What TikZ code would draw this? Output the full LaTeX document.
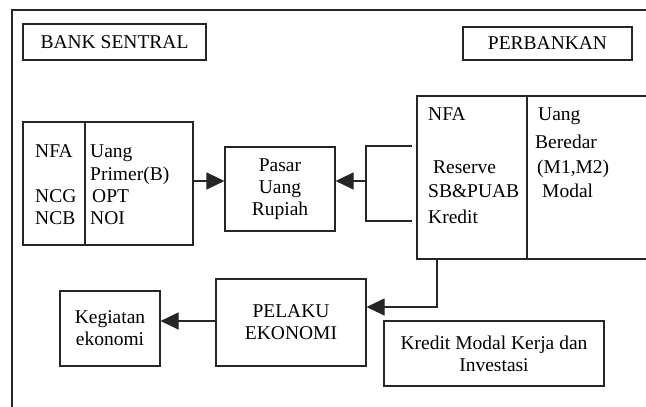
\documentclass[tikz,border=0pt]{standalone}
\usepackage{fontspec}
\setmainfont{Liberation Serif}
\usetikzlibrary{arrows.meta}
\begin{document}
\begin{tikzpicture}[x=1pt,y=-1pt,
  line/.style={draw=black!85, line width=1.1pt},
  box/.style={line, inner sep=0pt, align=center, font=\fontsize{19.5}{22}\selectfont},
  txt/.style={inner sep=0pt, anchor=base west, font=\fontsize{19.5}{22}\selectfont},
  arr/.style={line, -{Triangle[length=18pt,width=17pt]}}]
\clip (0,0) rectangle (646,407);
\fill[white] (0,0) rectangle (646,407);
% outer frame (cut by page edges)
\draw[line] (12,420) -- (12,10) -- (660,10);

% titles
\node[box, minimum width=183pt, minimum height=36pt] (bank) at (114.5,42) {BANK SENTRAL};
\node[box, minimum width=169pt, minimum height=33pt] (perb) at (547.5,43.5) {PERBANKAN};

% bank sentral balance sheet
\node[box, minimum width=170pt, minimum height=123pt] (bs) at (108,183.5) {};
\draw[line] (85,122) -- (85,245);
\node[txt] (bs1) at (35,157) {NFA};
\node[txt] (bs2) at (35,202) {NCG};
\node[txt] (bs3) at (35,224) {NCB};
\node[txt] (bs4) at (90,157) {Uang};
\node[txt] (bs5) at (90,180) {Primer(B)};
\node[txt] (bs6) at (92,202) {OPT};
\node[txt] (bs7) at (90,224) {NOI};

% pasar uang
\node[box, minimum width=110pt, minimum height=84pt] (pasar) at (280,189) {Pasar\\Uang\\Rupiah};

% perbankan balance sheet
\node[box, minimum width=243pt, minimum height=163pt] (rb) at (538.5,177.5) {};
\draw[line] (527,96) -- (527,259);
\node[txt] (rb1) at (428,120) {NFA};
\node[txt] (rb2) at (433,173) {Reserve};
\node[txt] (rb3) at (428,197) {SB\&PUAB};
\node[txt] (rb4) at (428,223) {Kredit};
\node[txt] (rb5) at (538,120) {Uang};
\node[txt] (rb6) at (535,148) {Beredar};
\node[txt] (rb7) at (537,173) {(M1,M2)};
\node[txt] (rb8) at (542,197) {Modal};

% lower row
\node[box, minimum width=150pt, minimum height=87pt] (pel) at (291,322.5) {PELAKU\\EKONOMI};
\node[box, minimum width=100pt, minimum height=75pt] (keg) at (110,328.5) {Kegiatan\\ekonomi};
\node[box, minimum width=220pt, minimum height=65pt] (kred) at (494,353.5) {Kredit Modal Kerja dan\\Investasi};

% helper coordinates
\coordinate (ya) at (0,181);
\coordinate (bt) at (412,146);
\coordinate (bb) at (412,221);
\coordinate (bx) at (366,181);
\coordinate (rd) at (437,259);
\coordinate (rc) at (437,307);
\coordinate (yb) at (0,321);

% connectors
\draw[arr] (bs.east |- ya) -- (pasar.west |- ya);
\draw[line] (bt) -- (bt -| bx) -- (bb -| bx) -- (bb);
\draw[arr] (bx) -- (pasar.east |- ya);
\draw[arr] (rd) -- (rc) -- (pel.east |- rc);
\draw[arr] (pel.west |- yb) -- (keg.east |- yb);
\end{tikzpicture}
\end{document}
